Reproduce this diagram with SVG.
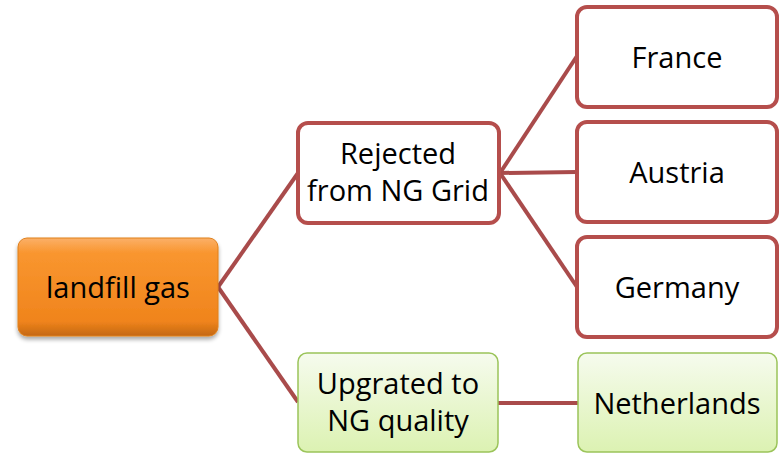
<svg xmlns="http://www.w3.org/2000/svg" width="779" height="454" viewBox="0 0 779 454">
<defs>
<linearGradient id="og" x1="0" y1="0" x2="0" y2="1">
<stop offset="0" stop-color="#fbb068"/>
<stop offset="0.15" stop-color="#f9962f"/>
<stop offset="0.85" stop-color="#f0841c"/>
<stop offset="1" stop-color="#c46812"/>
</linearGradient>
<linearGradient id="gg" x1="0" y1="0" x2="0" y2="1">
<stop offset="0" stop-color="#f6fbee"/>
<stop offset="1" stop-color="#dcf2b2"/>
</linearGradient>
<filter id="sh" x="-10%" y="-10%" width="130%" height="130%">
<feGaussianBlur in="SourceAlpha" stdDeviation="2"/>
<feOffset dx="0" dy="3"/>
<feComponentTransfer><feFuncA type="linear" slope="0.35"/></feComponentTransfer>
<feMerge><feMergeNode/><feMergeNode in="SourceGraphic"/></feMerge>
</filter>
</defs>
<style>
.red{fill:#ffffff;stroke:#b54e4c;stroke-width:4}
.grn{fill:url(#gg);stroke:#9bc45a;stroke-width:1.5}
.org{fill:url(#og);stroke:#e0801c;stroke-width:1}
text{font-family:"Open Sans","Liberation Sans",sans-serif;font-size:29px;fill:#000;text-anchor:middle}
.c{stroke:#a94b4b;stroke-width:4;fill:none}
</style>
<g id="connectors">
<path class="c" d="M218,287 L298,173"/>
<path class="c" d="M218,287 L298,402"/>
<path class="c" d="M500,173 L577,56"/>
<path class="c" d="M500,173 L577,172"/>
<path class="c" d="M500,173 L577,287"/>
<path class="c" d="M498,403 L578,403"/>
</g>
<g id="landfill">
<rect class="org" x="18" y="238" width="200" height="98" rx="9" filter="url(#sh)"/>
<text x="118" y="298">landfill gas</text>
</g>
<g id="rejected">
<rect class="red" x="298" y="123" width="201" height="100" rx="10"/>
<text x="398" y="164">Rejected</text>
<text x="398" y="201">from NG Grid</text>
</g>
<g id="france">
<rect class="red" x="577" y="7" width="200" height="100" rx="10"/>
<text x="677" y="68">France</text>
</g>
<g id="austria">
<rect class="red" x="577" y="122" width="200" height="100" rx="10"/>
<text x="677" y="183">Austria</text>
</g>
<g id="germany">
<rect class="red" x="577" y="237" width="200" height="100" rx="10"/>
<text x="677" y="298">Germany</text>
</g>
<g id="upgrated">
<rect class="grn" x="298" y="353" width="200" height="99" rx="9"/>
<text x="398" y="394">Upgrated to</text>
<text x="398" y="431">NG quality</text>
</g>
<g id="netherlands">
<rect class="grn" x="578" y="353" width="199" height="99" rx="9"/>
<text x="677" y="414">Netherlands</text>
</g>
</svg>
